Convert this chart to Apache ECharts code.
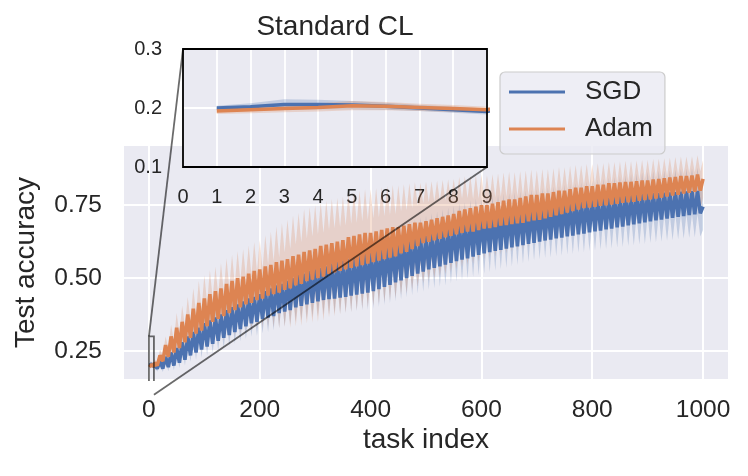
<!DOCTYPE html>
<html>
<head>
<meta charset="utf-8">
<script src="https://cdn.jsdelivr.net/npm/echarts@6/dist/echarts.min.js"></script>
<style>
html, body { margin: 0; padding: 0; background: #fff; }
#main { width: 748px; height: 476px; }
</style>
</head>
<body>
<div id="main"></div>
<script>
// first tasks (shown in the inset), read one by one
var earlyTasks = [1, 2, 3, 4, 5, 6, 7, 8, 9];
var sgdEarly = [0.200, 0.202, 0.206, 0.206, 0.205, 0.203, 0.200, 0.197, 0.194];
var adamEarly = [0.195, 0.197, 0.199, 0.201, 0.204, 0.203, 0.201, 0.199, 0.197];
var sgdEarlyStd = [0.004, 0.006, 0.009, 0.008, 0.007, 0.006, 0.005, 0.005, 0.005];
var adamEarlyStd = [0.005, 0.006, 0.006, 0.007, 0.008, 0.007, 0.006, 0.006, 0.005];

// tasks 10, 15, 20 ... 1000 : peak / dip pairs of the oscillating mean
var sgdTail = [
    0.205, 0.190, 0.215, 0.190, 0.230, 0.195, 0.245, 0.200, 0.260, 0.210,
    0.280, 0.220, 0.300, 0.235, 0.315, 0.245, 0.330, 0.255, 0.345, 0.265,
    0.355, 0.275, 0.365, 0.285, 0.375, 0.295, 0.390, 0.305, 0.400, 0.315,
    0.410, 0.325, 0.420, 0.335, 0.430, 0.345, 0.435, 0.350, 0.445, 0.360,
    0.455, 0.365, 0.465, 0.370, 0.475, 0.380, 0.480, 0.385, 0.490, 0.390,
    0.500, 0.400, 0.510, 0.405, 0.515, 0.410, 0.525, 0.415, 0.530, 0.420,
    0.535, 0.425, 0.540, 0.428, 0.550, 0.430, 0.555, 0.433, 0.560, 0.436,
    0.565, 0.440, 0.570, 0.443, 0.580, 0.447, 0.585, 0.450, 0.590, 0.455,
    0.595, 0.462, 0.600, 0.470, 0.605, 0.477, 0.610, 0.485, 0.618, 0.492,
    0.625, 0.500, 0.630, 0.508, 0.635, 0.515, 0.640, 0.522, 0.645, 0.530,
    0.652, 0.535, 0.658, 0.540, 0.665, 0.546, 0.672, 0.552, 0.678, 0.558,
    0.685, 0.563, 0.690, 0.568, 0.697, 0.574, 0.703, 0.580, 0.710, 0.585,
    0.713, 0.589, 0.717, 0.593, 0.720, 0.597, 0.724, 0.601, 0.727, 0.605,
    0.731, 0.609, 0.735, 0.613, 0.738, 0.617, 0.742, 0.621, 0.745, 0.625,
    0.748, 0.629, 0.750, 0.632, 0.753, 0.636, 0.755, 0.639, 0.758, 0.643,
    0.760, 0.646, 0.763, 0.650, 0.765, 0.653, 0.768, 0.657, 0.770, 0.660,
    0.772, 0.663, 0.774, 0.667, 0.776, 0.670, 0.778, 0.674, 0.780, 0.677,
    0.782, 0.681, 0.784, 0.684, 0.786, 0.688, 0.788, 0.691, 0.790, 0.695,
    0.791, 0.698, 0.792, 0.701, 0.793, 0.704, 0.794, 0.707, 0.795, 0.710,
    0.796, 0.713, 0.797, 0.716, 0.798, 0.719, 0.799, 0.722, 0.745
];
var adamTail = [
    0.210, 0.200, 0.235, 0.215, 0.270, 0.230, 0.300, 0.245, 0.330, 0.260,
    0.350, 0.280, 0.375, 0.295, 0.395, 0.310, 0.415, 0.320, 0.430, 0.335,
    0.445, 0.350, 0.455, 0.360, 0.465, 0.370, 0.480, 0.380, 0.490, 0.390,
    0.500, 0.400, 0.505, 0.410, 0.515, 0.415, 0.525, 0.425, 0.530, 0.430,
    0.540, 0.440, 0.545, 0.445, 0.555, 0.450, 0.560, 0.460, 0.565, 0.465,
    0.575, 0.475, 0.580, 0.480, 0.590, 0.490, 0.595, 0.495, 0.600, 0.500,
    0.610, 0.505, 0.615, 0.515, 0.620, 0.520, 0.625, 0.525, 0.630, 0.530,
    0.640, 0.535, 0.645, 0.540, 0.650, 0.545, 0.655, 0.550, 0.655, 0.555,
    0.660, 0.560, 0.665, 0.565, 0.670, 0.570, 0.675, 0.575, 0.675, 0.585,
    0.680, 0.590, 0.685, 0.600, 0.690, 0.610, 0.690, 0.620, 0.695, 0.625,
    0.700, 0.630, 0.705, 0.635, 0.710, 0.640, 0.715, 0.645, 0.720, 0.650,
    0.730, 0.655, 0.735, 0.660, 0.740, 0.660, 0.745, 0.665, 0.750, 0.670,
    0.750, 0.672, 0.755, 0.675, 0.760, 0.680, 0.765, 0.682, 0.770, 0.685,
    0.770, 0.688, 0.775, 0.690, 0.780, 0.695, 0.785, 0.698, 0.785, 0.700,
    0.790, 0.705, 0.790, 0.710, 0.795, 0.715, 0.800, 0.720, 0.800, 0.725,
    0.805, 0.730, 0.810, 0.735, 0.810, 0.740, 0.815, 0.742, 0.815, 0.745,
    0.820, 0.748, 0.820, 0.750, 0.825, 0.752, 0.825, 0.755, 0.828, 0.758,
    0.830, 0.760, 0.830, 0.762, 0.832, 0.765, 0.835, 0.768, 0.835, 0.770,
    0.838, 0.773, 0.840, 0.776, 0.842, 0.780, 0.845, 0.783, 0.847, 0.786,
    0.850, 0.790, 0.850, 0.793, 0.852, 0.796, 0.855, 0.800, 0.840
];

// spread of the shaded band, one value per 10-task block (10-15, 20-25 ... 1000)
var sgdStdBlocks = [
    0.010, 0.012, 0.014, 0.016, 0.018, 0.020, 0.022, 0.025, 0.028, 0.030,
    0.032, 0.034, 0.036, 0.038, 0.040, 0.042, 0.044, 0.046, 0.048, 0.050,
    0.050, 0.050, 0.051, 0.051, 0.050, 0.050, 0.050, 0.051, 0.050, 0.050,
    0.051, 0.052, 0.053, 0.054, 0.055, 0.056, 0.057, 0.058, 0.059, 0.060,
    0.061, 0.062, 0.063, 0.064, 0.065, 0.066, 0.067, 0.068, 0.069, 0.070,
    0.070, 0.070, 0.071, 0.070, 0.070, 0.071, 0.070, 0.070, 0.070, 0.070,
    0.069, 0.068, 0.067, 0.066, 0.065, 0.064, 0.063, 0.062, 0.061, 0.060,
    0.060, 0.061, 0.061, 0.062, 0.062, 0.063, 0.063, 0.064, 0.064, 0.065,
    0.066, 0.067, 0.068, 0.069, 0.070, 0.071, 0.072, 0.073, 0.074, 0.075,
    0.075, 0.076, 0.076, 0.077, 0.077, 0.078, 0.078, 0.079, 0.079, 0.080
];
var adamStdBlocks = [
    0.012, 0.020, 0.030, 0.040, 0.050, 0.055, 0.060, 0.070, 0.075, 0.080,
    0.082, 0.084, 0.086, 0.088, 0.090, 0.092, 0.094, 0.096, 0.098, 0.100,
    0.107, 0.114, 0.121, 0.128, 0.135, 0.140, 0.143, 0.146, 0.148, 0.150,
    0.150, 0.150, 0.151, 0.150, 0.150, 0.151, 0.150, 0.150, 0.150, 0.150,
    0.148, 0.147, 0.146, 0.144, 0.143, 0.142, 0.140, 0.139, 0.137, 0.135,
    0.132, 0.129, 0.126, 0.123, 0.120, 0.117, 0.114, 0.111, 0.108, 0.105,
    0.103, 0.101, 0.099, 0.097, 0.095, 0.093, 0.091, 0.089, 0.087, 0.085,
    0.084, 0.083, 0.082, 0.081, 0.080, 0.079, 0.078, 0.077, 0.076, 0.075,
    0.074, 0.074, 0.073, 0.073, 0.072, 0.072, 0.071, 0.071, 0.070, 0.070,
    0.070, 0.069, 0.069, 0.068, 0.068, 0.067, 0.067, 0.066, 0.066, 0.065
];

var xTicks = [0, 200, 400, 600, 800, 1000];
var yTicks = [0.25, 0.50, 0.75];

var FONT = 'Liberation Sans, Arial, sans-serif';
var TXT = '#262626';
var BLUE = '#4c72b0', ORANGE = '#dd8452';

// x positions of the sampled points
var taskIdx = earlyTasks.slice();
for (var t = 10; t <= 1000; t += 5) taskIdx.push(t);

function expandStd(early, blocks) {
    var out = early.slice();
    for (var i = 0; i < taskIdx.length - early.length; i++) out.push(blocks[Math.floor(i / 2)]);
    return out;
}

var sgdMean = sgdEarly.concat(sgdTail);
var adamMean = adamEarly.concat(adamTail);
var sgdStd = expandStd(sgdEarlyStd, sgdStdBlocks);
var adamStd = expandStd(adamEarlyStd, adamStdBlocks);

// mean +- std band, drawn as one polygon through the axis scales
function bandSeries(mean, std, fill, ax, z) {
    var pts = taskIdx.map(function (x, i) { return [x, mean[i] - std[i], mean[i] + std[i]]; });
    return {
        type: 'custom', xAxisIndex: ax, yAxisIndex: ax, silent: true, z: z,
        data: pts,
        encode: { x: 0, y: [1, 2] },
        renderItem: function (params, api) {
            if (params.dataIndex !== 0) return;
            var upper = [], lower = [];
            for (var i = 0; i < pts.length; i++) {
                upper.push(api.coord([pts[i][0], pts[i][2]]));
                lower.push(api.coord([pts[i][0], pts[i][1]]));
            }
            var cs = params.coordSys;
            return {
                type: 'polygon',
                shape: { points: upper.concat(lower.reverse()) },
                style: { fill: fill },
                clipPath: { type: 'rect', shape: { x: cs.x, y: cs.y, width: cs.width, height: cs.height } }
            };
        }
    };
}

function lineSeries(name, mean, color, ax, width, z) {
    return {
        type: 'line', name: name, xAxisIndex: ax, yAxisIndex: ax,
        data: taskIdx.map(function (x, i) { return [x, mean[i]]; }),
        symbol: 'none', lineStyle: { color: color, width: width },
        itemStyle: { color: color }, z: z
    };
}

var series = [
    bandSeries(sgdMean, sgdStd, 'rgba(76,114,176,0.25)', 0, 2),
    bandSeries(adamMean, adamStd, 'rgba(221,132,82,0.25)', 0, 2),
    lineSeries('SGD', sgdMean, BLUE, 0, 3.6, 3),
    lineSeries('Adam', adamMean, ORANGE, 0, 3.6, 3),
    bandSeries(sgdMean, sgdStd, 'rgba(76,114,176,0.25)', 1, 5),
    bandSeries(adamMean, adamStd, 'rgba(221,132,82,0.25)', 1, 5),
    lineSeries('SGD', sgdMean, BLUE, 1, 3.5, 6),
    lineSeries('Adam', adamMean, ORANGE, 1, 3.5, 6)
];

var myChart = echarts.init(document.getElementById('main'));

var option = {
    animation: false,
    backgroundColor: '#ffffff',
    grid: [
        { left: 124, top: 146, width: 604, height: 233, show: true, backgroundColor: '#eaeaf2', borderWidth: 0 },
        { left: 183, top: 49, width: 304, height: 118, show: true, backgroundColor: '#eaeaf2', borderWidth: 0, z: 1 }
    ],
    xAxis: [{
        type: 'value', gridIndex: 0, min: -45, max: 1045,
        name: 'task index', nameLocation: 'middle', nameGap: 47,
        nameTextStyle: { fontSize: 28, color: TXT, fontFamily: FONT },
        axisLine: { show: false },
        axisTick: { show: false, customValues: xTicks },
        axisLabel: {
            customValues: xTicks, fontSize: 24.5, color: TXT, fontFamily: FONT, margin: 19,
            formatter: function (v) { return String(v); }
        },
        splitLine: { show: true, lineStyle: { color: '#ffffff', width: 2 } }
    }, {
        type: 'value', gridIndex: 1, min: 0, max: 9, interval: 1, z: 1.5,
        axisLine: { show: false }, axisTick: { show: false },
        axisLabel: { fontSize: 20, color: TXT, fontFamily: FONT, margin: 20 },
        splitLine: { show: true, lineStyle: { color: '#ffffff', width: 1.8 } }
    }],
    yAxis: [{
        type: 'value', gridIndex: 0, min: 0.154, max: 0.953,
        name: 'Test accuracy', nameLocation: 'middle', nameGap: 84,
        nameTextStyle: { fontSize: 28, color: TXT, fontFamily: FONT },
        axisLine: { show: false },
        axisTick: { show: false, customValues: yTicks },
        axisLabel: {
            customValues: yTicks, fontSize: 24.5, color: TXT, fontFamily: FONT, margin: 22,
            formatter: function (v) { return v.toFixed(2); }
        },
        splitLine: { show: true, lineStyle: { color: '#ffffff', width: 2 } }
    }, {
        type: 'value', gridIndex: 1, min: 0.1, max: 0.3, interval: 0.1, z: 1.5,
        axisLine: { show: false }, axisTick: { show: false },
        axisLabel: {
            fontSize: 20, color: TXT, fontFamily: FONT, margin: 21,
            formatter: function (v) { return v.toFixed(1); }
        },
        splitLine: { show: true, lineStyle: { color: '#ffffff', width: 1.8 } }
    }],
    legend: {
        data: ['SGD', 'Adam'], orient: 'vertical', left: 500, top: 72,
        icon: 'rect', itemWidth: 56, itemHeight: 3, itemGap: 11,
        padding: [7, 12, 12, 9],
        backgroundColor: 'rgba(234,234,242,0.8)', borderColor: '#cccccc', borderWidth: 1.2, borderRadius: 5,
        textStyle: { fontSize: 26, color: TXT, fontFamily: FONT, padding: [0, 0, 0, 15] }
    },
    series: series
};

myChart.setOption(option);

// inset frame, zoom box and connector lines from the axes' own scales
var inTL = myChart.convertToPixel({ xAxisIndex: 1, yAxisIndex: 1 }, [0, 0.3]);
var inBR = myChart.convertToPixel({ xAxisIndex: 1, yAxisIndex: 1 }, [9, 0.1]);
var zTL = myChart.convertToPixel({ xAxisIndex: 0, yAxisIndex: 0 }, [0, 0.3]);
var zBR = myChart.convertToPixel({ xAxisIndex: 0, yAxisIndex: 0 }, [9, 0.1]);
var zBot = myChart.convertToPixel({ xAxisIndex: 0, yAxisIndex: 0 }, [9, 0.154])[1] + 2;
var GRAY = 'rgba(0,0,0,0.58)';

myChart.setOption({
    graphic: [
        { type: 'rect', z: 100, shape: { x: inTL[0], y: inTL[1], width: inBR[0] - inTL[0], height: inBR[1] - inTL[1] },
          style: { fill: 'none', stroke: '#000', lineWidth: 1.8 } },
        { type: 'polyline', z: 100, shape: { points: [[zTL[0], zBot], [zTL[0], zTL[1]], [zBR[0], zTL[1]], [zBR[0], zBot]] },
          style: { fill: 'none', stroke: GRAY, lineWidth: 1.8 } },
        { type: 'line', z: 100, shape: { x1: inTL[0], y1: inTL[1], x2: zTL[0], y2: zTL[1] },
          style: { stroke: GRAY, lineWidth: 1.8 } },
        { type: 'line', z: 100, shape: { x1: inBR[0], y1: inBR[1], x2: zBR[0], y2: zBR[1] },
          style: { stroke: GRAY, lineWidth: 1.8 } },
        { type: 'text', z: 100, x: (inTL[0] + inBR[0]) / 2, y: inTL[1] - 22,
          style: { text: 'Standard CL', fontSize: 28, fontFamily: FONT, fill: TXT,
                   align: 'center', verticalAlign: 'middle', textAlign: 'center', textVerticalAlign: 'middle' } }
    ]
});
</script>
</body>
</html>
